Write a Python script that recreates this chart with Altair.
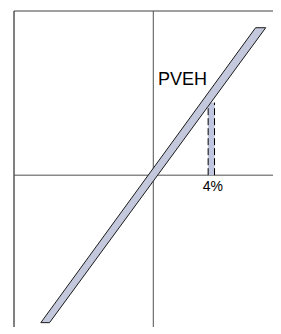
import altair as alt
import pandas as pd

# Plot-area pixel size (page window allows at most 265 x 318 of drawing)
PX_PER_UNIT = 14.51

# Axis extents (percent units)
x_domain = [-9.6, 8.25]
y_domain = [-10.45, 11.3]

# Diagonal band (parallelogram)
band_y = [-10.15, 10.15]
band_left = [-7.75, 7.05]
band_right = [-7.15, 7.75]

# Dashed bar at 4%
bar_x = [3.78, 4.22]
bar_top = [5.0]

# Labels
curve_label = ["PVEH"]
curve_label_pos = [0.32, 6.2]
tick_label = ["4%"]
tick_label_pos = [4.1, -1.12]

W = round((x_domain[1] - x_domain[0]) * PX_PER_UNIT)
H = round((y_domain[1] - y_domain[0]) * PX_PER_UNIT)

xs = alt.Scale(domain=x_domain, nice=False, zero=False)
ys = alt.Scale(domain=y_domain, nice=False, zero=False)

band_df = pd.DataFrame({"y": band_y, "xl": band_left, "xr": band_right})
bar_df = pd.DataFrame({"x": [bar_x[0]], "x2": [bar_x[1]], "y": [0.0], "y2": bar_top})
dash_df = pd.DataFrame({"x": bar_x, "y": [0.0, 0.0], "y2": bar_top * 2})
frame_v = pd.DataFrame({"x": [x_domain[0]], "y": [y_domain[0]], "y2": [y_domain[1]]})
top_h = pd.DataFrame({"y": [y_domain[1]], "x": [x_domain[0]], "x2": [x_domain[1]]})
axis_v = pd.DataFrame({"x": [0.0], "y": [y_domain[0]], "y2": [y_domain[1]]})
axis_h = pd.DataFrame({"y": [0.0], "x": [x_domain[0]], "x2": [x_domain[1]]})
txt1 = pd.DataFrame({"x": [curve_label_pos[0]], "y": [curve_label_pos[1]], "t": curve_label})
txt2 = pd.DataFrame({"x": [tick_label_pos[0]], "y": [tick_label_pos[1]], "t": tick_label})

X = lambda f: alt.X(f, scale=xs, axis=None)
Y = lambda f: alt.Y(f, scale=ys, axis=None)

left_border = alt.Chart(frame_v).mark_rule(color="#808080", strokeWidth=2).encode(
    x=X("x:Q"), y=Y("y:Q"), y2="y2:Q")
top_border = alt.Chart(top_h).mark_rule(color="#404040", strokeWidth=1).encode(
    y=Y("y:Q"), x=X("x:Q"), x2="x2:Q")
v_axis = alt.Chart(axis_v).mark_rule(color="#505050", strokeWidth=1).encode(
    x=X("x:Q"), y=Y("y:Q"), y2="y2:Q")
h_axis = alt.Chart(axis_h).mark_rule(color="#505050", strokeWidth=1).encode(
    y=Y("y:Q"), x=X("x:Q"), x2="x2:Q")

bar = alt.Chart(bar_df).mark_rect(color="#c0c6e0").encode(
    x=X("x:Q"), x2="x2:Q", y=Y("y:Q"), y2="y2:Q")
dashes = alt.Chart(dash_df).mark_rule(color="black", strokeWidth=1, strokeDash=[7, 3]).encode(
    x=X("x:Q"), y=Y("y:Q"), y2="y2:Q")

band = alt.Chart(band_df).mark_area(
    orient="horizontal", color="#c3c8dc", stroke="#1a1a1a", strokeWidth=1, opacity=1
).encode(y=Y("y:Q"), x=X("xl:Q"), x2="xr:Q")

t1 = alt.Chart(txt1).mark_text(
    align="left", baseline="alphabetic", font="Liberation Sans", fontSize=18, color="black"
).encode(x=X("x:Q"), y=Y("y:Q"), text="t:N")
t2 = alt.Chart(txt2).mark_text(
    align="center", baseline="alphabetic", font="Liberation Sans", fontSize=14, color="black"
).encode(x=X("x:Q"), y=Y("y:Q"), text="t:N")

chart = alt.layer(
    left_border, top_border, v_axis, h_axis, bar, dashes, band, t1, t2
).properties(
    width=W, height=H,
    autosize=alt.AutoSizeParams(type="none"),
    padding={"left": 6, "top": 3, "right": 0, "bottom": 0},
).configure_view(stroke=None)

chart.save("out.html", embed_options={"renderer": "svg", "actions": False})
